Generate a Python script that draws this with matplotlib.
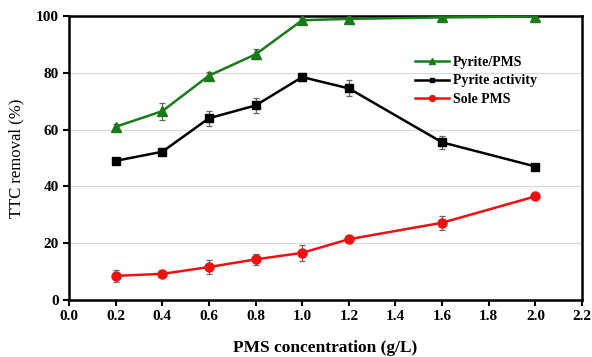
import matplotlib
matplotlib.use("Agg")
import matplotlib.pyplot as plt

plt.rcParams['font.family'] = ['Liberation Serif', 'DejaVu Serif']
plt.rcParams['font.weight'] = 'bold'

pms_conc = [0.2, 0.4, 0.6, 0.8, 1.0, 1.2, 1.6, 2.0]

pyrite_pms = [61.0, 66.5, 79.0, 86.5, 98.5, 99.0, 99.5, 99.8]
pyrite_pms_err = [0.8, 3.0, 1.2, 1.8, 0.8, 0.6, 0.5, 0.4]

pyrite_act = [49.0, 52.2, 64.0, 68.5, 78.5, 74.5, 55.5, 47.0]
pyrite_act_err = [1.0, 1.2, 2.6, 2.5, 1.5, 2.8, 2.3, 0.6]

sole_pms = [8.5, 9.2, 11.6, 14.3, 16.6, 21.4, 27.2, 36.5]
sole_pms_err = [2.0, 1.0, 2.4, 2.0, 2.8, 0.8, 2.5, 0.8]

series_labels = ["Pyrite/PMS", "Pyrite activity", "Sole PMS"]
x_ticks = [0.0, 0.2, 0.4, 0.6, 0.8, 1.0, 1.2, 1.4, 1.6, 1.8, 2.0, 2.2]
y_ticks = [0, 20, 40, 60, 80, 100]

fig = plt.figure(figsize=(5.92, 3.57), dpi=100)
ax = fig.add_axes([0.1166, 0.1597, 0.8666, 0.7955])

styles = [
    (pyrite_pms, pyrite_pms_err, "#1a7a1a", "^", 6.5),
    (pyrite_act, pyrite_act_err, "black", "s", 5.5),
    (sole_pms, sole_pms_err, "#ee1111", "o", 6.5),
]
for (vals, errs, col, mk, ms), lab in zip(styles, series_labels):
    ax.errorbar(pms_conc, vals, yerr=errs, color=col, marker=mk, markersize=ms,
                linewidth=1.8, ecolor="#666666", elinewidth=0.9, capsize=2.5,
                capthick=0.9, label=lab, zorder=3)

ax.set_xlim(0.0, 2.2)
ax.set_ylim(0, 100)
ax.set_xticks(x_ticks)
ax.set_xticklabels([f"{t:.1f}" for t in x_ticks])
ax.set_yticks(y_ticks)
ax.yaxis.grid(True, color="#d9d9d9", linewidth=0.8)
ax.set_axisbelow(True)

for s in ax.spines.values():
    s.set_linewidth(1.8)
ax.tick_params(axis='both', labelsize=11, width=1.5, length=4, direction='out')
for lbl in ax.get_xticklabels() + ax.get_yticklabels():
    lbl.set_fontweight('bold')

ax.set_xlabel("PMS concentration (g/L)", fontsize=12.5, fontweight='bold', labelpad=12)
ax.set_ylabel("TTC removal (%)", fontsize=12, fontweight='normal', labelpad=8)

handles, labels = ax.get_legend_handles_labels()
handles = [h[0] for h in handles]
leg = ax.legend(handles, labels, loc='upper left', bbox_to_anchor=(0.664, 0.88),
                frameon=False, prop={'weight': 'bold', 'size': 10},
                handlelength=2.4, handletextpad=0.3, labelspacing=0.42,
                markerscale=0.65, borderaxespad=0)

fig.savefig("out.png", dpi=100)
